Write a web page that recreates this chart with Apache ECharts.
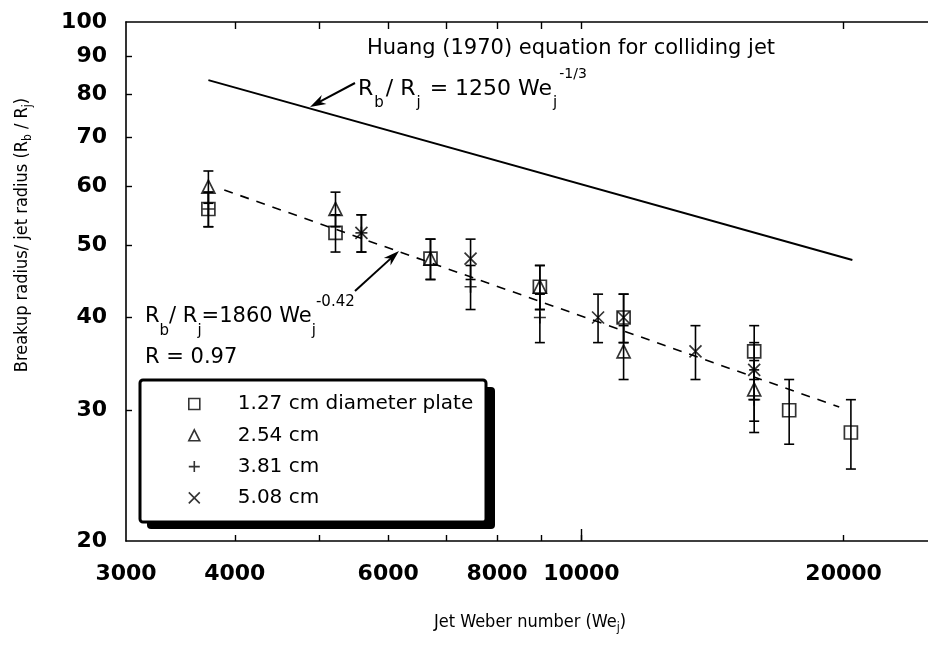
<!DOCTYPE html>
<html>
<head>
<meta charset="utf-8">
<script src="https://cdn.jsdelivr.net/npm/echarts@6/dist/echarts.min.js"></script>
<style>
  html, body { margin: 0; padding: 0; background: #fff; }
  #main { width: 928px; height: 647px; }
</style>
</head>
<body>
<div id="main"></div>
<script>
// values (We on x, Rb/Rj on y, both log scales)
const weSquare = [3730, 5220, 6710, 8960, 11180, 15790, 17320, 20390];
const rSquare = [56, 52, 48, 44, 40, 36, 30, 28];
const weTriangle = [3730, 5220, 6710, 8960, 11180, 15790];
const rTriangle = [60, 56, 48, 44, 36, 32];
const wePlus = [3730, 5590, 7460, 8960, 15790];
const rPlus = [56, 52, 44, 40, 31];
const weCross = [5590, 7460, 10450, 11180, 13520, 15790];
const rCross = [52, 48, 40, 40, 36, 34];
const errHalf = 3; // error bars are about +/-3 everywhere

const huangWe = [3730, 20470];
const huangR = [83.5, 47.8];
const fitWe = [3890, 19770];
const fitR = [59.4, 30.3];

const xTickValues = [4000, 5000, 6000, 7000, 8000, 9000, 10000, 20000];
const xLabelValues = [3000, 4000, 6000, 8000, 10000, 20000];
const yTickValues = [30, 40, 50, 60, 70, 80, 90];
const yLabelValues = [20, 30, 40, 50, 60, 70, 80, 90, 100];
const xRange = [3000, 25000];
const yRange = [20, 100];

const legendNames = ['1.27 cm diameter plate', '2.54 cm', '3.81 cm', '5.08 cm'];

const FONT = '"DejaVu Sans", sans-serif';
const NARROW = '"Liberation Sans Narrow", "DejaVu Sans Condensed", "Liberation Sans", sans-serif';
const lg = v => Math.log10(v);
const pairs = (xs, ys) => xs.map((x, i) => [lg(x), lg(ys[i])]);
const fmt = v => String(Math.round(Math.pow(10, v)));

const PLUS = 'path://M5,0L5,10M0,5L10,5';
const CROSS = 'path://M0,0L10,10M10,0L0,10';

// error bar rows: [logWe, logLow, logHigh]
const errRows = [];
[[weSquare, rSquare], [weTriangle, rTriangle], [wePlus, rPlus], [weCross, rCross]].forEach(([xs, ys]) => {
  xs.forEach((x, i) => errRows.push([lg(x), lg(ys[i] - errHalf), lg(ys[i] + errHalf)]));
});

function arrow(x1, y1, x2, y2) {
  const dx = x2 - x1, dy = y2 - y1, len = Math.hypot(dx, dy);
  const ux = dx / len, uy = dy / len, hl = 16, hw = 5;
  const bx = x2 - ux * hl, by = y2 - uy * hl;
  return [
    { type: 'line', z: 50, shape: { x1: x1, y1: y1, x2: x2 - ux * 8, y2: y2 - uy * 8 }, style: { stroke: '#000', lineWidth: 2 } },
    { type: 'polygon', z: 50, shape: { points: [[x2, y2], [bx - uy * hw, by + ux * hw], [x2 - ux * hl * 0.7, y2 - uy * hl * 0.7], [bx + uy * hw, by - ux * hw]] }, style: { fill: '#000' } }
  ];
}

// rich styles for the two equations: n = normal, s = subscript, p = superscript
const eqRich = {
  n: { fontFamily: FONT, fontSize: 22, color: '#000', lineHeight: 44 },
  s: { fontFamily: FONT, fontSize: 15, color: '#000', lineHeight: 6, verticalAlign: 'bottom', padding: [0, 2, 0, 1] },
  p: { fontFamily: FONT, fontSize: 14, color: '#000', lineHeight: 22, verticalAlign: 'top' }
};
const fitRich = {
  n: { fontFamily: FONT, fontSize: 21, color: '#000', lineHeight: 44 },
  s: { fontFamily: FONT, fontSize: 15, color: '#000', lineHeight: 6, verticalAlign: 'bottom' },
  p: { fontFamily: FONT, fontSize: 15, color: '#000', lineHeight: 24, verticalAlign: 'top' }
};
const titleRich = {
  n: { fontFamily: NARROW, fontSize: 18, color: '#000', lineHeight: 24 },
  s: { fontFamily: NARROW, fontSize: 12, color: '#000', lineHeight: 10, verticalAlign: 'bottom' }
};

const chart = echarts.init(document.getElementById('main'));

const scatterBase = {
  type: 'scatter', z: 5,
  itemStyle: { color: 'transparent', borderColor: '#000', borderWidth: 1.7 }
};

chart.setOption({
  animation: false,
  backgroundColor: '#fff',
  grid: { left: 126, top: 22, bottom: 106, right: -6 },
  xAxis: [
    {
      type: 'value', position: 'bottom', min: lg(xRange[0]), max: lg(xRange[1]),
      axisLine: { lineStyle: { color: '#000', width: 1.6 } },
      axisTick: { inside: true, length: 6, customValues: xTickValues.map(lg), lineStyle: { color: '#000', width: 1.4 } },
      axisLabel: { customValues: xLabelValues.map(lg), formatter: fmt, margin: 22, fontFamily: FONT, fontWeight: 'bold', fontSize: 22, color: '#000' },
      splitLine: { show: false }
    },
    {
      type: 'value', position: 'top', min: lg(xRange[0]), max: lg(xRange[1]),
      axisLine: { lineStyle: { color: '#000', width: 1.6 } },
      axisTick: { inside: true, length: 7, customValues: xTickValues.map(lg), lineStyle: { color: '#000', width: 1.4 } },
      axisLabel: { show: false },
      splitLine: { show: false }
    },
    {
      // the longer decade tick at 10000
      type: 'value', position: 'bottom', min: lg(xRange[0]), max: lg(xRange[1]),
      axisLine: { show: false },
      axisTick: { inside: true, length: 12, customValues: [lg(10000)], lineStyle: { color: '#000', width: 1.4 } },
      axisLabel: { show: false },
      splitLine: { show: false }
    }
  ],
  yAxis: {
    type: 'value', min: lg(yRange[0]), max: lg(yRange[1]),
    axisLine: { show: true, lineStyle: { color: '#000', width: 1.6 } },
    axisTick: { show: true, inside: true, length: 6, customValues: yTickValues.map(lg), lineStyle: { color: '#000', width: 1.4 } },
    axisLabel: { customValues: yLabelValues.map(lg), formatter: fmt, margin: 19, fontFamily: FONT, fontWeight: 'bold', fontSize: 22, color: '#000' },
    splitLine: { show: false }
  },
  legend: {
    orient: 'vertical', left: 188, top: 394, z: 10, padding: 0,
    itemWidth: 11, itemHeight: 11, itemGap: 11.3,
    selectedMode: false,
    itemStyle: { borderWidth: 1.6 },
    textStyle: { fontFamily: FONT, fontSize: 20, color: '#000', lineHeight: 20, padding: [0, 0, 0, 33] },
    data: legendNames
  },
  series: [
    {
      type: 'line', data: pairs(huangWe, huangR), showSymbol: false, silent: true,
      lineStyle: { color: '#000', width: 2 }
    },
    {
      type: 'line', data: pairs(fitWe, fitR), showSymbol: false, silent: true,
      lineStyle: { color: '#000', width: 1.6, type: [9, 8] }
    },
    {
      type: 'custom', data: errRows, encode: { x: 0, y: [1, 2] }, silent: true, z: 4,
      renderItem: (params, api) => {
        const hi = api.coord([api.value(0), api.value(2)]);
        const lo = api.coord([api.value(0), api.value(1)]);
        const st = { stroke: '#000', lineWidth: 1.6 };
        return {
          type: 'group', children: [
            { type: 'line', shape: { x1: hi[0], y1: hi[1], x2: lo[0], y2: lo[1] }, style: st },
            { type: 'line', shape: { x1: hi[0] - 5, y1: hi[1], x2: hi[0] + 5, y2: hi[1] }, style: st },
            { type: 'line', shape: { x1: lo[0] - 5, y1: lo[1], x2: lo[0] + 5, y2: lo[1] }, style: st }
          ]
        };
      }
    },
    Object.assign({}, scatterBase, { name: legendNames[0], symbol: 'rect', symbolSize: 13, data: pairs(weSquare, rSquare) }),
    Object.assign({}, scatterBase, { name: legendNames[1], symbol: 'triangle', symbolSize: 13, data: pairs(weTriangle, rTriangle) }),
    Object.assign({}, scatterBase, { name: legendNames[2], symbol: PLUS, symbolSize: 12, data: pairs(wePlus, rPlus) }),
    Object.assign({}, scatterBase, { name: legendNames[3], symbol: CROSS, symbolSize: 12, data: pairs(weCross, rCross) })
  ],
  graphic: [
    // legend box with its heavy drop shadow
    { type: 'rect', z: 1, shape: { x: 147, y: 387, width: 348, height: 142, r: 4 }, style: { fill: '#000' } },
    { type: 'rect', z: 2, shape: { x: 140, y: 380, width: 346, height: 142, r: 3 }, style: { fill: '#fff', stroke: '#000', lineWidth: 3 } },
    {
      type: 'text', z: 30, x: 367, y: 49,
      style: { text: 'Huang (1970) equation for colliding jet', fontFamily: FONT, fontSize: 21, fill: '#000', verticalAlign: 'middle' }
    },
    {
      type: 'text', z: 30, x: 358, y: 89,
      style: { text: '{n|R}{s|b}{n|/ R}{s|j}{n| = 1250 We}{s|j}{p|-1/3}', rich: eqRich, verticalAlign: 'middle' }
    },
    {
      type: 'text', z: 30, x: 145, y: 317,
      style: { text: '{n|R}{s|b}{n|/ R}{s|j}{n|=1860 We}{s|j}{p|-0.42}', rich: fitRich, verticalAlign: 'middle' }
    },
    {
      type: 'text', z: 30, x: 145, y: 358,
      style: { text: 'R = 0.97', fontFamily: FONT, fontSize: 21, fill: '#000', verticalAlign: 'middle' }
    },
    {
      type: 'text', z: 30, x: 530, y: 622,
      style: { text: '{n|Jet Weber number (We}{s|j}{n|)}', rich: titleRich, align: 'center', verticalAlign: 'middle' }
    },
    {
      type: 'text', z: 30, x: 22, y: 235, rotation: Math.PI / 2,
      style: { text: '{n|Breakup radius/ jet radius (R}{s|b}{n| / R}{s|j}{n|)}', rich: titleRich, align: 'center', verticalAlign: 'middle' }
    }
  ].concat(arrow(355, 83, 310, 107), arrow(355, 291, 399, 251))
});
</script>
</body>
</html>
